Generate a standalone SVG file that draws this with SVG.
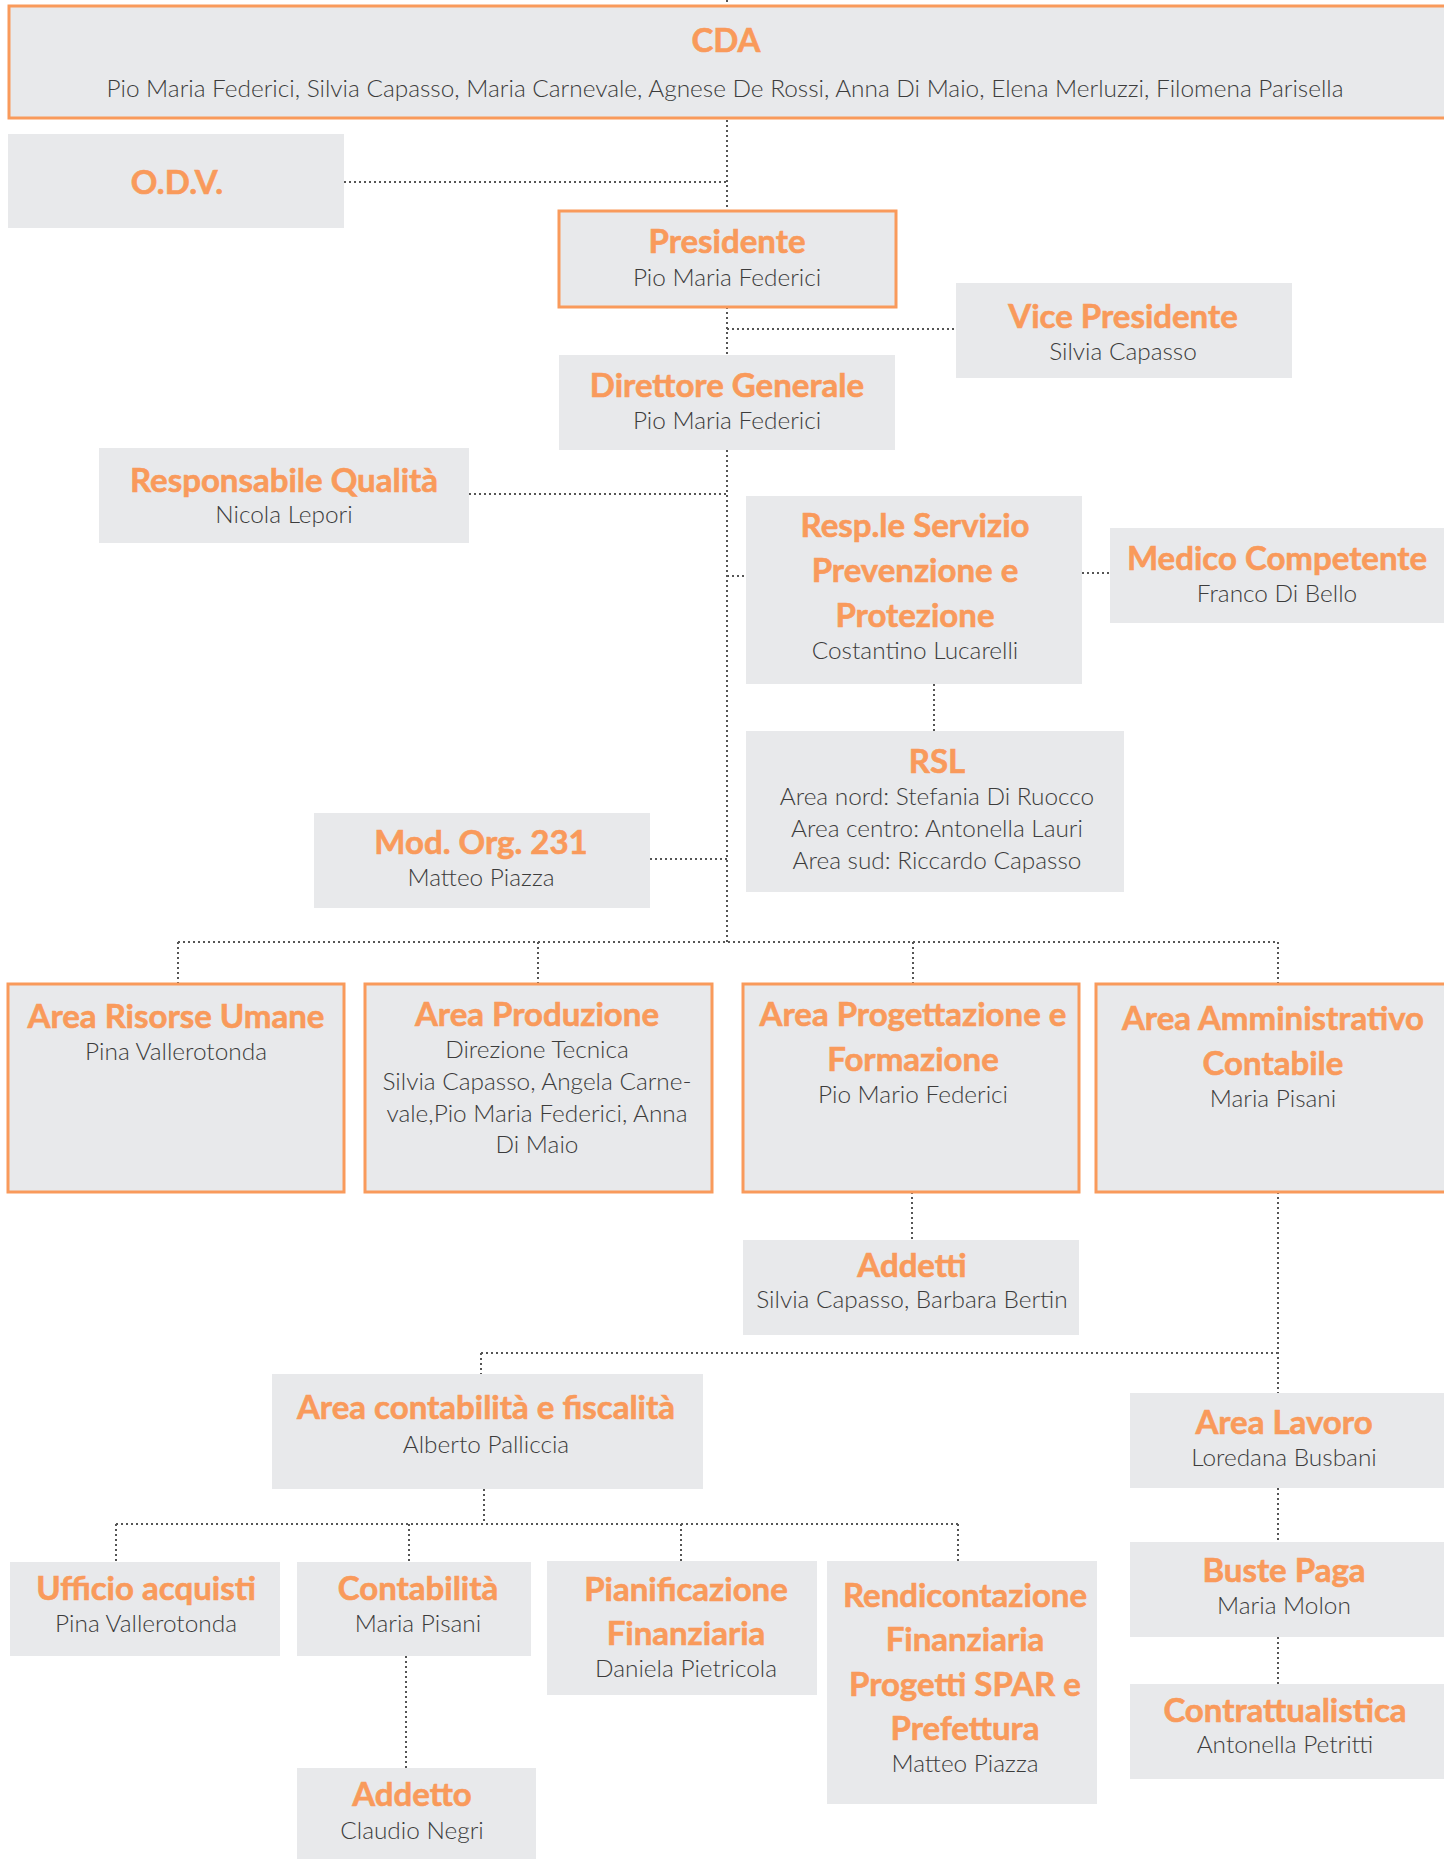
<svg xmlns="http://www.w3.org/2000/svg" width="1444" height="1859" viewBox="0 0 1444 1859">
<style>
.bx{fill:#E8E9EB}
.ob{fill:#E8E9EB;stroke:#F99A5B;stroke-width:3}
.t{font-family:Lato,"Open Sans",sans-serif;font-weight:700;font-size:33px;fill:#F99A5B;stroke:#F99A5B;stroke-width:0.6;text-anchor:middle}
.n{font-family:Lato,"Open Sans",sans-serif;font-weight:300;font-size:24.4px;fill:#3c3c3c;text-anchor:middle}
.c{stroke:#555;stroke-width:2;stroke-dasharray:2 3;fill:none}
</style>
<rect width="1444" height="1859" fill="#fff"/>
<g id="connectors">
<path class="c" d="M727 0V211M344 182H727M727 307V355M727 329H956M727 450V942M469 494H727M727 576H746M1082 573H1110M934 684V731M650 859H727"/>
<path class="c" d="M178 942H1278M178 942V984M538 942V984M913 942V984M1278 942V984M912 1192V1240M1278 1192V1393M481 1353H1278M481 1353V1374M1278 1488V1542M1278 1637V1684"/>
<path class="c" d="M484 1489V1524M116 1524H958M116 1524V1562M409 1524V1562M681 1524V1561M958 1524V1561M406 1656V1768"/>
</g>
<g id="cda"><rect class="ob" x="9" y="6" width="1450" height="112"/><text class="t" x="726" y="52">CDA</text><text class="n" x="725" y="97">Pio Maria Federici, Silvia Capasso, Maria Carnevale, Agnese De Rossi, Anna Di Maio, Elena Merluzzi, Filomena Parisella</text></g>
<g id="odv"><rect class="bx" x="8" y="134" width="336" height="94"/><text class="t" x="177" y="194">O.D.V.</text></g>
<g id="presidente"><rect class="ob" x="559" y="211" width="337" height="96"/><text class="t" x="727" y="253">Presidente</text><text class="n" x="727" y="286">Pio Maria Federici</text></g>
<g id="vice"><rect class="bx" x="956" y="283" width="336" height="95"/><text class="t" x="1123" y="328">Vice Presidente</text><text class="n" x="1123" y="360">Silvia Capasso</text></g>
<g id="direttore"><rect class="bx" x="559" y="355" width="336" height="95"/><text class="t" x="727" y="397">Direttore Generale</text><text class="n" x="727" y="429">Pio Maria Federici</text></g>
<g id="qualita"><rect class="bx" x="99" y="448" width="370" height="95"/><text class="t" x="284" y="492">Responsabile Qualità</text><text class="n" x="284" y="523">Nicola Lepori</text></g>
<g id="rspp"><rect class="bx" x="746" y="496" width="336" height="188"/><text class="t" x="915" y="537">Resp.le Servizio</text><text class="t" x="915" y="582">Prevenzione e</text><text class="t" x="915" y="627">Protezione</text><text class="n" x="915" y="659">Costantino Lucarelli</text></g>
<g id="medico"><rect class="bx" x="1110" y="528" width="340" height="95"/><text class="t" x="1277" y="570">Medico Competente</text><text class="n" x="1277" y="602">Franco Di Bello</text></g>
<g id="rsl"><rect class="bx" x="746" y="731" width="378" height="161"/><text class="t" x="937" y="773">RSL</text><text class="n" x="937" y="805">Area nord: Stefania Di Ruocco</text><text class="n" x="937" y="837">Area centro: Antonella Lauri</text><text class="n" x="937" y="869">Area sud: Riccardo Capasso</text></g>
<g id="mod231"><rect class="bx" x="314" y="813" width="336" height="95"/><text class="t" x="481" y="854">Mod. Org. 231</text><text class="n" x="481" y="886">Matteo Piazza</text></g>
<g id="risorse"><rect class="ob" x="8" y="984" width="336" height="208"/><text class="t" x="176" y="1028">Area Risorse Umane</text><text class="n" x="176" y="1060">Pina Vallerotonda</text></g>
<g id="produzione"><rect class="ob" x="365" y="984" width="347" height="208"/><text class="t" x="537" y="1026">Area Produzione</text><text class="n" x="537" y="1058">Direzione Tecnica</text><text class="n" x="537" y="1090">Silvia Capasso, Angela Carne-</text><text class="n" x="537" y="1122">vale,Pio Maria Federici, Anna</text><text class="n" x="537" y="1153">Di Maio</text></g>
<g id="progettazione"><rect class="ob" x="743" y="984" width="336" height="208"/><text class="t" x="913" y="1026">Area Progettazione e</text><text class="t" x="913" y="1071">Formazione</text><text class="n" x="913" y="1103">Pio Mario Federici</text></g>
<g id="amministrativo"><rect class="ob" x="1096" y="984" width="360" height="208"/><text class="t" x="1273" y="1030">Area Amministrativo</text><text class="t" x="1273" y="1075">Contabile</text><text class="n" x="1273" y="1107">Maria Pisani</text></g>
<g id="addetti"><rect class="bx" x="743" y="1240" width="336" height="95"/><text class="t" x="912" y="1277">Addetti</text><text class="n" x="912" y="1308">Silvia Capasso, Barbara Bertin</text></g>
<g id="contfisc"><rect class="bx" x="272" y="1374" width="431" height="115"/><text class="t" x="486" y="1419">Area contabilità e fiscalità</text><text class="n" x="486" y="1453">Alberto Palliccia</text></g>
<g id="lavoro"><rect class="bx" x="1130" y="1393" width="320" height="95"/><text class="t" x="1284" y="1434">Area Lavoro</text><text class="n" x="1284" y="1466">Loredana Busbani</text></g>
<g id="buste"><rect class="bx" x="1130" y="1542" width="320" height="95"/><text class="t" x="1284" y="1582">Buste Paga</text><text class="n" x="1284" y="1614">Maria Molon</text></g>
<g id="contratt"><rect class="bx" x="1130" y="1684" width="320" height="95"/><text class="t" x="1285" y="1722">Contrattualistica</text><text class="n" x="1285" y="1753">Antonella Petritti</text></g>
<g id="acquisti"><rect class="bx" x="10" y="1562" width="270" height="94"/><text class="t" x="146" y="1600">Ufficio acquisti</text><text class="n" x="146" y="1632">Pina Vallerotonda</text></g>
<g id="contabilita"><rect class="bx" x="297" y="1562" width="234" height="94"/><text class="t" x="418" y="1600">Contabilità</text><text class="n" x="418" y="1632">Maria Pisani</text></g>
<g id="pianificazione"><rect class="bx" x="547" y="1561" width="270" height="134"/><text class="t" x="686" y="1601">Pianificazione</text><text class="t" x="686" y="1645">Finanziaria</text><text class="n" x="686" y="1677">Daniela Pietricola</text></g>
<g id="rendicontazione"><rect class="bx" x="827" y="1561" width="270" height="243"/><text class="t" x="965" y="1607">Rendicontazione</text><text class="t" x="965" y="1651">Finanziaria</text><text class="t" x="965" y="1696">Progetti SPAR e</text><text class="t" x="965" y="1740">Prefettura</text><text class="n" x="965" y="1772">Matteo Piazza</text></g>
<g id="addetto"><rect class="bx" x="297" y="1768" width="239" height="100"/><text class="t" x="412" y="1806">Addetto</text><text class="n" x="412" y="1839">Claudio Negri</text></g>
</svg>
